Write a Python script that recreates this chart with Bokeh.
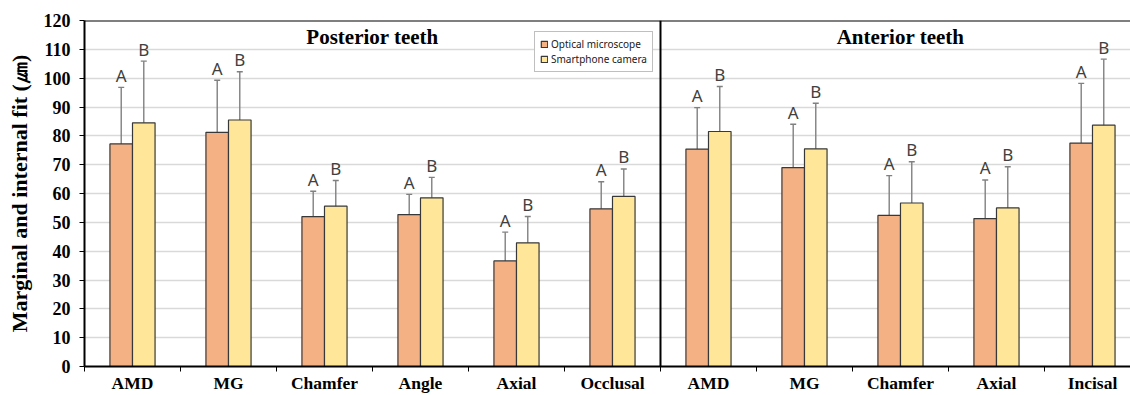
from bokeh.plotting import figure
from bokeh.models import (Range1d, FixedTicker, Whisker, TeeHead, ColumnDataSource,
                          Span, Legend, LegendItem)
from bokeh.core.properties import value
from bokeh.embed import file_html
from bokeh.resources import INLINE

# ---- data ----
categories = ["AMD", "MG", "Chamfer", "Angle", "Axial", "Occlusal",
              "AMD", "MG", "Chamfer", "Axial", "Incisal"]
groups = ["Posterior teeth", "Anterior teeth"]
group_sizes = [6, 5]
series_names = ["Optical microscope", "Smartphone camera"]
optical_mean = [77.2, 81.2, 52.0, 52.7, 36.6, 54.7, 75.4, 69.0, 52.4, 51.3, 77.5]
optical_sd = [19.6, 18.1, 8.8, 7.0, 10.0, 9.4, 14.4, 15.0, 13.8, 13.4, 20.7]
smart_mean = [84.5, 85.5, 55.6, 58.5, 42.9, 59.0, 81.5, 75.5, 56.7, 55.0, 83.7]
smart_sd = [21.4, 16.7, 8.9, 7.1, 9.1, 9.5, 15.6, 15.8, 14.3, 14.3, 22.9]
optical_letters = ["A"] * 11
smart_letters = ["B"] * 11
y_ticks = list(range(0, 121, 10))

ORANGE = "#F4B183"
YELLOW = "#FFE699"
SERIF = "Liberation Serif"

n = len(categories)
bw = 0.235
centers = [i + 0.5 for i in range(n)]
src_o = ColumnDataSource(dict(
    x=[c - bw / 2 for c in centers], top=optical_mean,
    upper=[m + s for m, s in zip(optical_mean, optical_sd)],
    lower=[m - s for m, s in zip(optical_mean, optical_sd)],
    letter=optical_letters))
src_s = ColumnDataSource(dict(
    x=[c + bw / 2 for c in centers], top=smart_mean,
    upper=[m + s for m, s in zip(smart_mean, smart_sd)],
    lower=[m - s for m, s in zip(smart_mean, smart_sd)],
    letter=smart_letters))

p = figure(width=1130, height=395, output_backend="svg", toolbar_location=None,
           x_range=Range1d(0, 10.896), y_range=Range1d(0, 120),
           min_border_left=84, min_border_right=0, min_border_top=20, min_border_bottom=0)
p.outline_line_color = None
p.xgrid.visible = False
p.ygrid.grid_line_color = "#d9d9d9"
p.ygrid.grid_line_width = 1.3

# y axis
p.yaxis.ticker = FixedTicker(ticks=y_ticks, minor_ticks=[])
p.yaxis.axis_label = "Marginal and internal fit (\u339b)"
p.yaxis.axis_label_text_font = SERIF
p.yaxis.axis_label_text_font_style = "bold"
p.yaxis.axis_label_text_font_size = "22px"
p.yaxis.axis_label_text_color = "black"
p.yaxis.axis_label_standoff = 9
p.yaxis.major_label_text_font = SERIF
p.yaxis.major_label_text_font_style = "bold"
p.yaxis.major_label_text_font_size = "18px"
p.yaxis.major_label_text_color = "black"
p.yaxis.major_label_standoff = 9
p.yaxis.major_tick_out = 5
p.yaxis.major_tick_in = 0
p.yaxis.axis_line_width = 2
p.yaxis.axis_line_color = "black"
p.yaxis.major_tick_line_color = "black"

# x axis
p.xaxis.ticker = FixedTicker(ticks=centers, minor_ticks=list(range(n + 1)))
p.xaxis.major_label_overrides = {c: name for c, name in zip(centers, categories)}
p.xaxis.major_tick_line_color = None
p.xaxis.minor_tick_line_color = "black"
p.xaxis.minor_tick_out = 5
p.xaxis.minor_tick_in = 0
p.xaxis.major_label_text_font = SERIF
p.xaxis.major_label_text_font_style = "bold"
p.xaxis.major_label_text_font_size = "17.5px"
p.xaxis.major_label_text_color = "black"
p.xaxis.major_label_standoff = 0
p.xaxis.axis_line_width = 2
p.xaxis.axis_line_color = "black"

# bars
r_o = p.vbar(x="x", top="top", width=bw, source=src_o, fill_color=ORANGE,
             line_color="#383838", line_width=1.2)
r_s = p.vbar(x="x", top="top", width=bw, source=src_s, fill_color=YELLOW,
             line_color="#383838", line_width=1.2)

# error bars
for src in (src_o, src_s):
    p.add_layout(Whisker(source=src, base="x", upper="upper", lower="lower",
                         line_color="#808080", line_width=1.4,
                         upper_head=TeeHead(size=6, line_color="#808080", line_width=1.4),
                         lower_head=TeeHead(size=6, line_color="#808080", line_width=1.4)))
    p.text(x="x", y="upper", text="letter", source=src, text_align="center",
           text_baseline="alphabetic", y_offset=-12, text_font=value("Noto Sans"),
           text_font_size="17px", text_color="#404040")

# panel divider & top border
p.add_layout(Span(location=group_sizes[0], dimension="height", line_color="black", line_width=2))
p.add_layout(Span(location=120, dimension="width", line_color="black", line_width=2))

# group titles
title_x = [group_sizes[0] / 2, group_sizes[0] + group_sizes[1] / 2]
p.text(x=title_x, y=[120, 120], text=groups, text_align="center",
       text_baseline="alphabetic", y_offset=16, text_font=value(SERIF),
       text_font_style="bold", text_font_size="21px", text_color="black")

# legend
legend = Legend(items=[LegendItem(label=series_names[0], renderers=[r_o]),
                       LegendItem(label=series_names[1], renderers=[r_s])],
                location=(450, 294), orientation="vertical",
                label_text_font="Noto Sans", label_text_font_size="10px",
                label_text_color="#202020", label_height=13, label_standoff=3,
                glyph_height=8, glyph_width=8, spacing=1, padding=5, margin=0,
                border_line_color="#808080", border_line_width=1,
                background_fill_color="white", background_fill_alpha=1)
p.add_layout(legend)

open("out.html", "w").write(file_html(p, INLINE))
